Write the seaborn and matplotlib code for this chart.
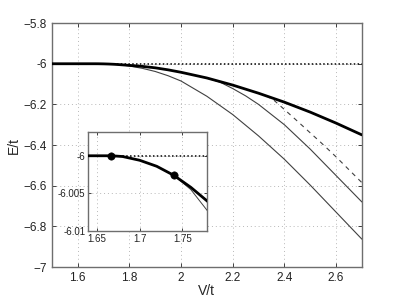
import matplotlib
matplotlib.use("Agg")
import matplotlib.pyplot as plt
import seaborn as sns

# curves (V/t, E/t)
v_thick = [1.5, 1.6, 1.667, 1.68, 1.7, 1.72, 1.74, 1.76, 1.78, 1.8, 1.85, 1.9, 1.95,
           2.0, 2.1, 2.2, 2.3, 2.4, 2.5, 2.6, 2.7]
e_thick = [-6.0, -6.0, -6.0, -6.0001, -6.0006, -6.0014, -6.0026, -6.0042, -6.0061, -6.008,
           -6.013, -6.02, -6.03, -6.042, -6.07, -6.105, -6.145, -6.189, -6.238, -6.292, -6.35]

v_thin1 = [1.74, 1.76, 1.78, 1.8, 1.85, 1.9, 1.95, 2.0, 2.1, 2.2, 2.3, 2.4, 2.5, 2.6, 2.7]
e_thin1 = [-6.0026, -6.0045, -6.0074, -6.0112, -6.0225, -6.038, -6.059, -6.085, -6.16,
           -6.25, -6.355, -6.47, -6.597, -6.73, -6.863]

v_thin2 = [2.1, 2.15, 2.2, 2.25, 2.3, 2.4, 2.5, 2.6, 2.7]
e_thin2 = [-6.0705, -6.09, -6.122, -6.158, -6.2, -6.3, -6.42, -6.55, -6.68]

v_dash = [2.33, 2.36, 2.4, 2.45, 2.5, 2.54, 2.6, 2.7]
e_dash = [-6.157, -6.18, -6.225, -6.282, -6.34, -6.386, -6.458, -6.585]

v_dots = [1.666, 1.74]
e_dots = [-6.0, -6.00257]

x_ticks = [1.6, 1.8, 2.0, 2.2, 2.4, 2.6]
x_labels = ["1.6", "1.8", "2", "2.2", "2.4", "2.6"]
y_ticks = [-7, -6.8, -6.6, -6.4, -6.2, -6, -5.8]
y_labels = ["\u22127", "\u22126.8", "\u22126.6", "\u22126.4", "\u22126.2", "-6", "\u22125.8"]

in_x_ticks = [1.65, 1.7, 1.75]
in_x_labels = ["1.65", "1.7", "1.75"]
in_y_ticks = [-6.01, -6.005, -6.0]
in_y_labels = ["-6.01", "-6.005", "-6"]

sns.set_style("ticks")
plt.rcParams["font.family"] = ["Liberation Sans", "DejaVu Sans"]

fig = plt.figure(figsize=(3.99, 3.0), dpi=100)
ax = fig.add_axes([0.130, 0.11, 0.777, 0.813])
axin = fig.add_axes([0.2206, 0.23, 0.2984, 0.33])

grid_kw = dict(color="#b8b8b8", linestyle=(0, (1, 3)), linewidth=0.7)


def draw(a, lw_thick, lw_thin):
    a.axhline(-6, color="black", linestyle=(0, (1, 1.5)), linewidth=1.1, zorder=2)
    sns.lineplot(x=v_thin1, y=e_thin1, ax=a, color="#404040", linewidth=lw_thin,
                 sort=False, zorder=3)
    sns.lineplot(x=v_thin2, y=e_thin2, ax=a, color="#404040", linewidth=lw_thin,
                 sort=False, zorder=3)
    sns.lineplot(x=v_dash, y=e_dash, ax=a, color="#404040", linewidth=lw_thin,
                 linestyle=(0, (4, 4)), sort=False, zorder=3)
    sns.lineplot(x=v_thick, y=e_thick, ax=a, color="black", linewidth=lw_thick,
                 sort=False, zorder=4)


draw(ax, 2.0, 0.8)
ax.set_xlim(1.5, 2.7)
ax.set_ylim(-7, -5.8)
ax.set_xticks(x_ticks)
ax.set_xticklabels(x_labels)
ax.set_yticks(y_ticks)
ax.set_yticklabels(y_labels)
ax.grid(True, **grid_kw)
ax.set_xlabel("V/t", fontsize=10, labelpad=0)
ax.set_ylabel("E/t", fontsize=10, labelpad=2)
ax.tick_params(direction="in", length=3, width=0.6, labelsize=8.5, colors="#222222",
               top=True, right=True)

draw(axin, 2.0, 0.7)
sns.scatterplot(x=v_dots, y=e_dots, ax=axin, color="black", s=28, zorder=5,
                edgecolor="black")
axin.set_xlim(1.6394, 1.779)
axin.set_ylim(-6.01, -5.99684)
axin.set_xticks(in_x_ticks)
axin.set_xticklabels(in_x_labels)
axin.set_yticks(in_y_ticks)
axin.set_yticklabels(in_y_labels)
axin.grid(True, **grid_kw)
axin.set_xlabel("")
axin.set_ylabel("")
axin.tick_params(direction="in", length=2.5, width=0.6, labelsize=7, colors="#222222",
                 top=True, right=True, pad=2)
axin.set_facecolor("white")

for a in (ax, axin):
    for s in a.spines.values():
        s.set_color("#6e6e6e")
        s.set_linewidth(1.0)

fig.savefig("out.png", dpi=100)
